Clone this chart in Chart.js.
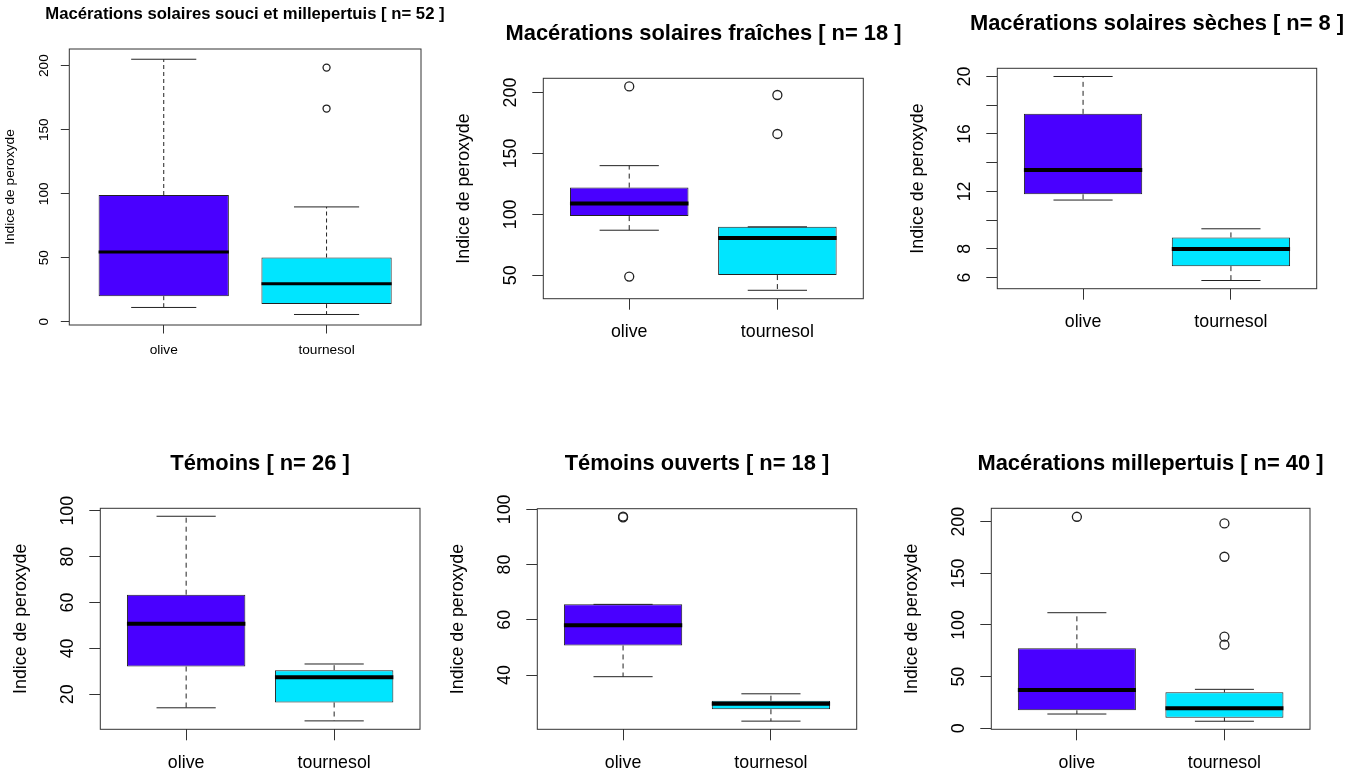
<!DOCTYPE html>
<html>
<head>
<meta charset="utf-8">
<script src="https://cdn.jsdelivr.net/npm/chart.js@4.4.1/dist/chart.umd.min.js"></script>
<style>
html,body{margin:0;padding:0;background:#fff;overflow:hidden;width:1363px;height:773px;}
#wrap{position:relative;width:1363px;height:773px;overflow:hidden;background:#fff;}
#wrap canvas{position:absolute;}
</style>
</head>
<body>
<div id="wrap"></div>
<script>
// ---------------- DATA ----------------
const categories = ['olive', 'tournesol'];
const yAxisTitle = 'Indice de peroxyde';
const panelTitles = [
  'Macérations solaires souci et millepertuis [ n= 52 ]',
  'Macérations solaires fraîches [ n= 18 ]',
  'Macérations solaires sèches [ n= 8 ]',
  'Témoins [ n= 26 ]',
  'Témoins ouverts [ n= 18 ]',
  'Macérations millepertuis [ n= 40 ]'
];
// each: [lower whisker, Q1, median, Q3, upper whisker]
const p1Olive = [11.2, 20, 54.5, 99, 205];
const p1Tourn = [5.7, 13.8, 29.7, 50.2, 89.7];
const p1OliveOut = [];
const p1TournOut = [166.5, 198.5];

const p2Olive = [87, 98.6, 109, 122, 140];
const p2Tourn = [37.7, 50.2, 80.6, 89.8, 89.8];
const p2OliveOut = [49, 205];
const p2TournOut = [166, 198];

const p3Olive = [11.4, 11.8, 13.5, 17.4, 20];
const p3Tourn = [5.8, 6.8, 8.0, 8.8, 9.4];
const p3OliveOut = [];
const p3TournOut = [];

const p4Olive = [14.1, 32.1, 50.7, 63.4, 97.6];
const p4Tourn = [8.4, 16.4, 27.4, 30.5, 33.2];
const p4OliveOut = [];
const p4TournOut = [];

const p5Olive = [39.4, 50.7, 58, 65.6, 65.6];
const p5Tourn = [23.3, 27.6, 29.6, 30.7, 33.2];
const p5OliveOut = [97.1, 97.4];
const p5TournOut = [];

const p6Olive = [13.8, 17.4, 37.1, 77.4, 111.9];
const p6Tourn = [6.8, 10.3, 19.4, 34.8, 37.7];
const p6OliveOut = [204.8];
const p6TournOut = [80.9, 88.7, 166.1, 198.4];

// y axis ranges [min, max]
const p1Range = [-2.5, 213];
const p2Range = [30.8, 211.7];
const p3Range = [5.23, 20.57];
const p4Range = [4.73, 101.07];
const p5Range = [20.34, 100.26];
const p6Range = [-1.0, 213];

// y tick positions and the labels that are printed
const p1Ticks = [0, 50, 100, 150, 200];
const p2Ticks = [50, 100, 150, 200];
const p3Ticks = [6, 8, 10, 12, 14, 16, 18, 20];
const p3Labels = [6, 8, 12, 16, 20];
const p4Ticks = [20, 40, 60, 80, 100];
const p5Ticks = [40, 60, 80, 100];
const p6Ticks = [0, 50, 100, 150, 200];

const panels = [
  {title: panelTitles[0], stats: [p1Olive, p1Tourn], outs: [p1OliveOut, p1TournOut], range: p1Range, ticks: p1Ticks, labels: p1Ticks},
  {title: panelTitles[1], stats: [p2Olive, p2Tourn], outs: [p2OliveOut, p2TournOut], range: p2Range, ticks: p2Ticks, labels: p2Ticks},
  {title: panelTitles[2], stats: [p3Olive, p3Tourn], outs: [p3OliveOut, p3TournOut], range: p3Range, ticks: p3Ticks, labels: p3Labels},
  {title: panelTitles[3], stats: [p4Olive, p4Tourn], outs: [p4OliveOut, p4TournOut], range: p4Range, ticks: p4Ticks, labels: p4Ticks},
  {title: panelTitles[4], stats: [p5Olive, p5Tourn], outs: [p5OliveOut, p5TournOut], range: p5Range, ticks: p5Ticks, labels: p5Ticks},
  {title: panelTitles[5], stats: [p6Olive, p6Tourn], outs: [p6OliveOut, p6TournOut], range: p6Range, ticks: p6Ticks, labels: p6Ticks}
];

// ---------------- LAYOUT / STYLE ----------------
const FONT = "'Liberation Sans', Arial, Helvetica, sans-serif";
const boxColors = ['#4900FF', '#00E5FF'];
const smallStyle = {text: 13.7, title: 16.7, tick: 8.5, tickLab: 24.6, yTitle: 59.5, xLab: 25.3, titleGap: 34.2, median: 3, outR: 3.5, dash: [4, 3]};
const bigStyle = {text: 17.8, title: 21.9, tick: 11, tickLab: 31.7, yTitle: 79, xLab: 33.4, titleGap: 44.4, median: 4, outR: 4.5, dash: [5, 4]};
const plotRects = [
  {L: 69.3, T: 49, R: 421, B: 325, cy: 0, cb: 380, st: smallStyle},
  {L: 543.3, T: 78.3, R: 863.3, B: 298.7, cy: 0, cb: 380, st: bigStyle},
  {L: 997.3, T: 68.3, R: 1316.7, B: 288.7, cy: 0, cb: 380, st: bigStyle},
  {L: 100.3, T: 508.3, R: 420, B: 729.3, cy: 390, cb: 773, st: bigStyle},
  {L: 537.3, T: 508.7, R: 856.7, B: 729.3, cy: 390, cb: 773, st: bigStyle},
  {L: 991.3, T: 508.3, R: 1310, B: 729.3, cy: 390, cb: 773, st: bigStyle}
];

const framePlugin = {
  id: 'rframe',
  afterDatasetsDraw(chart) {
    const {ctx, chartArea: a} = chart;
    ctx.save();
    ctx.strokeStyle = '#333';
    ctx.lineWidth = 1;
    ctx.strokeRect(a.left, a.top, a.right - a.left, a.bottom - a.top);
    ctx.restore();
  }
};

function yLabelPlugin(labels, st) {
  return {
    id: 'ylabels',
    afterDraw(chart) {
      const {ctx, chartArea: a} = chart;
      const ys = chart.scales.y;
      ctx.save();
      ctx.font = st.text + 'px ' + FONT;
      ctx.fillStyle = '#000';
      ctx.textAlign = 'center';
      ctx.textBaseline = 'middle';
      labels.forEach(v => {
        ctx.save();
        ctx.translate(a.left - st.tickLab, ys.getPixelForValue(v));
        ctx.rotate(-Math.PI / 2);
        ctx.fillText(String(v), 0, 0);
        ctx.restore();
      });
      ctx.restore();
    }
  };
}

function buildDatasets(p, st) {
  const HALF_BOX = 0.4, HALF_CAP = 0.2;
  const bars = [], whiskers = [], caps = [], medians = [], points = [];
  p.stats.forEach((s, i) => {
    const x = i + 1;
    const [lo, q1, med, q3, hi] = s;
    bars.push({x, y: [q1, q3]});
    whiskers.push({x, y: q3}, {x, y: hi}, {x, y: null}, {x, y: q1}, {x, y: lo}, {x, y: null});
    caps.push({x: x - HALF_CAP, y: hi}, {x: x + HALF_CAP, y: hi}, {x: x + HALF_CAP, y: null},
              {x: x - HALF_CAP, y: lo}, {x: x + HALF_CAP, y: lo}, {x: x + HALF_CAP, y: null});
    medians.push({x: x - HALF_BOX, y: med}, {x: x + HALF_BOX, y: med}, {x: x + HALF_BOX, y: null});
    p.outs[i].forEach(v => points.push({x, y: v}));
  });
  const lineBase = {type: 'line', pointRadius: 0, pointHitRadius: 0, spanGaps: false, tension: 0, fill: false, borderCapStyle: 'butt'};
  return [
    {type: 'bar', data: bars, backgroundColor: boxColors, borderColor: '#222', borderWidth: 1, borderSkipped: false,
     barPercentage: 0.8, categoryPercentage: 1.0, order: 10},
    Object.assign({}, lineBase, {data: whiskers, borderColor: '#222', borderWidth: 1, borderDash: st.dash, order: 6}),
    Object.assign({}, lineBase, {data: caps, borderColor: '#222', borderWidth: 1, order: 5}),
    Object.assign({}, lineBase, {data: medians, borderColor: '#000', borderWidth: st.median, order: 2}),
    {type: 'line', data: points, showLine: false, pointStyle: 'circle', pointRadius: st.outR, pointHoverRadius: st.outR,
     pointBackgroundColor: 'rgba(0,0,0,0)', pointBorderColor: '#222', pointBorderWidth: 1.3, order: 1}
  ];
}

const wrap = document.getElementById('wrap');
panels.forEach((p, idx) => {
  const r = plotRects[idx];
  const st = r.st;
  const cx = Math.max(0, Math.floor(r.L - 100));
  // symmetric canvas around the plot centre so the full-width title is centred on the plot
  const W = Math.round(r.L + r.R - 2 * cx);
  const H = r.cb - r.cy;
  const canvas = document.createElement('canvas');
  canvas.width = W; canvas.height = H;
  canvas.style.left = cx + 'px'; canvas.style.top = r.cy + 'px';
  canvas.style.width = W + 'px'; canvas.style.height = H + 'px';
  wrap.appendChild(canvas);

  const leftW = r.L - cx;
  const rightW = cx + W - r.R;
  const tLH = st.title * 1.2;
  const titleCenter = r.T - st.titleGap;
  const tPadTop = titleCenter - r.cy - tLH / 2;
  const tPadBottom = r.T - r.cy - tLH - tPadTop;
  const textLH = st.text * 1.2;
  const xH = r.cb - r.B;

  new Chart(canvas, {
    type: 'bar',
    data: {datasets: buildDatasets(p, st)},
    options: {
      responsive: false,
      animation: false,
      devicePixelRatio: 1,
      events: [],
      layout: {padding: 0},
      plugins: {
        legend: {display: false},
        tooltip: {enabled: false},
        title: {
          display: true, text: p.title, color: '#000',
          font: {family: FONT, size: st.title, weight: 'bold', lineHeight: 1.2},
          padding: {top: tPadTop, bottom: tPadBottom}
        }
      },
      scales: {
        x: {
          type: 'linear', min: 0.42, max: 2.58, bounds: 'data', offset: false,
          afterBuildTicks: s => { s.ticks = categories.map((c, i) => ({value: i + 1})); },
          afterFit: s => { s.height = xH; },
          grid: {display: true, offset: false, drawOnChartArea: false, drawTicks: true, tickLength: st.tick, color: '#333', lineWidth: 1},
          border: {display: false},
          ticks: {
            callback: v => categories[Math.round(v) - 1],
            font: {family: FONT, size: st.text, lineHeight: 1.2}, color: '#000',
            padding: st.xLab - st.tick - textLH / 2,
            autoSkip: false, minRotation: 0, maxRotation: 0
          }
        },
        y: {
          type: 'linear', position: 'left', min: p.range[0], max: p.range[1], bounds: 'data', beginAtZero: false,
          afterBuildTicks: s => { s.ticks = p.ticks.map(v => ({value: v})); },
          afterFit: s => { s.width = leftW; },
          grid: {display: true, drawOnChartArea: false, drawTicks: true, tickLength: st.tick, color: '#333', lineWidth: 1},
          border: {display: false},
          ticks: {display: false},
          title: {
            display: true, text: yAxisTitle, color: '#000',
            font: {family: FONT, size: st.text, lineHeight: 1.2},
            padding: {top: (r.L - st.yTitle - cx) - textLH / 2, bottom: 0}
          }
        },
        yRightMargin: {
          type: 'linear', position: 'right', display: true, min: 0, max: 1,
          afterFit: s => { s.width = rightW; },
          grid: {display: false, drawTicks: false},
          border: {display: false},
          ticks: {display: false}
        }
      }
    },
    plugins: [framePlugin, yLabelPlugin(p.labels, st)]
  });
});
</script>
</body>
</html>
